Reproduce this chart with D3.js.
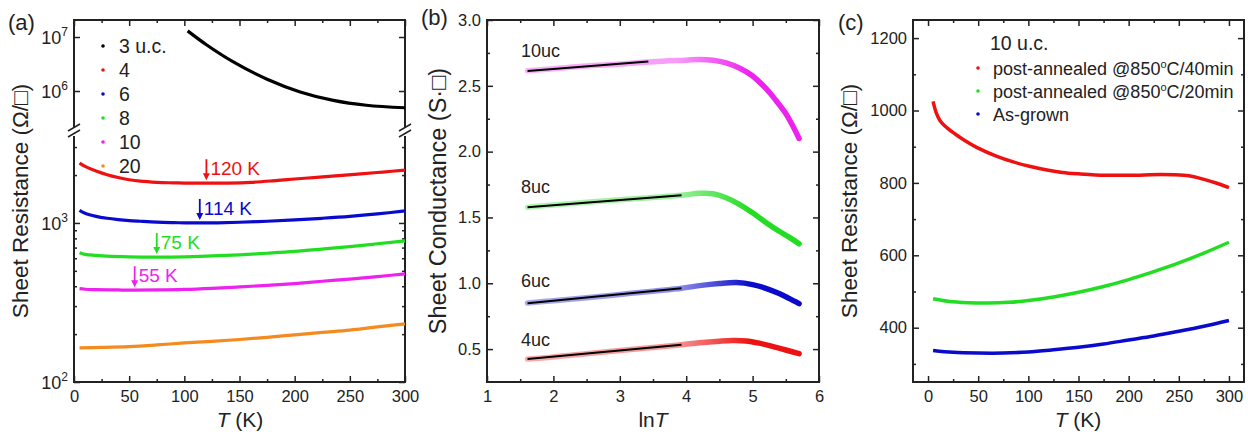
<!DOCTYPE html>
<html>
<head>
<meta charset="utf-8">
<script src="https://cdn.jsdelivr.net/npm/d3@7"></script>
<style>
  body { margin: 0; background: #fff; }
  svg text { font-family: "Liberation Sans", Arial, sans-serif; fill: #222; }
</style>
</head>
<body>
<svg width="1248" height="435"></svg>
<script>
var svg = d3.select('svg');

// ---------- data: panel (a), R(T) for several thicknesses ----------
var seriesA = ['3 u.c.', '4', '6', '8', '10', '20'];
var colorsA = ['#000000', '#ee1111', '#0a0acc', '#22dd22', '#ee22ee', '#f58a1f'];
var tA3 = [103, 120, 144, 175, 205, 235, 265, 300];
var rA3 = [1.3e7, 7.2e6, 3.5e6, 1.65e6, 9.6e5, 6.7e5, 5.45e5, 4.9e5];
var tA4 = [5, 10, 20, 30, 40, 50, 60, 75, 90, 100, 120, 140, 160, 180, 200, 220, 240, 260, 280, 300];
var rA4 = [2380, 2270, 2120, 2010, 1930, 1870, 1830, 1800, 1788, 1782, 1778, 1782, 1800, 1840, 1890, 1935, 1985, 2035, 2090, 2150];
var tA6 = [5, 10, 20, 30, 40, 50, 60, 75, 90, 100, 114, 130, 150, 175, 200, 225, 250, 275, 300];
var rA6 = [1200, 1150, 1100, 1070, 1050, 1035, 1025, 1012, 1005, 1002, 1000, 1002, 1010, 1025, 1045, 1070, 1100, 1140, 1190];
var tA8 = [5, 10, 20, 30, 50, 75, 100, 125, 150, 175, 200, 225, 250, 275, 300];
var rA8 = [650, 635, 625, 618, 612, 610, 612, 620, 630, 645, 662, 685, 710, 740, 772];
var tA10 = [5, 10, 20, 40, 55, 75, 100, 125, 150, 175, 200, 225, 250, 275, 300];
var rA10 = [386, 383, 381, 379, 378, 379, 382, 388, 396, 405, 416, 430, 444, 460, 478];
var tA20 = [5, 25, 50, 75, 100, 125, 150, 175, 200, 225, 250, 275, 300];
var rA20 = [164, 165, 167, 171, 176, 180, 185, 191, 198, 205, 212, 222, 232];
var minimaT = [120, 114, 75, 55];
var minimaLabel = ['120 K', '114 K', '75 K', '55 K'];
var minimaR = [1778, 1000, 610, 378];
var minimaColor = ['#ee1111', '#0a0acc', '#22dd22', '#ee22ee'];

// ---------- data: panel (b), sheet conductance vs ln T ----------
var labelsB = ['10uc', '8uc', '6uc', '4uc'];
var colorsB = ['#ee22ee', '#22dd22', '#0a0acc', '#ee1111'];
var lnT10 = [1.61, 2.0, 2.5, 3.0, 3.5, 4.0, 4.2, 4.4, 4.6, 4.8, 5.0, 5.2, 5.35, 5.5, 5.6, 5.7];
var g10 = [2.615, 2.63, 2.65, 2.665, 2.683, 2.695, 2.70, 2.695, 2.675, 2.635, 2.575, 2.48, 2.39, 2.29, 2.2, 2.1];
var lnT8 = [1.61, 2.0, 2.5, 3.0, 3.5, 3.93, 4.2, 4.4, 4.6, 4.8, 5.0, 5.2, 5.4, 5.55, 5.7];
var g8 = [1.578, 1.595, 1.615, 1.635, 1.652, 1.668, 1.683, 1.68, 1.65, 1.6, 1.535, 1.462, 1.395, 1.35, 1.3];
var lnT6 = [1.61, 2.0, 2.5, 3.0, 3.5, 3.93, 4.2, 4.5, 4.76, 5.0, 5.2, 5.4, 5.55, 5.7];
var g6 = [0.85, 0.868, 0.89, 0.915, 0.94, 0.962, 0.982, 0.998, 1.005, 0.99, 0.962, 0.922, 0.885, 0.845];
var lnT4 = [1.61, 2.0, 2.5, 3.0, 3.5, 3.93, 4.2, 4.5, 4.7, 4.9, 5.1, 5.3, 5.5, 5.7];
var g4 = [0.425, 0.44, 0.465, 0.49, 0.512, 0.533, 0.548, 0.56, 0.565, 0.562, 0.545, 0.52, 0.493, 0.465];
// linear fits (start / end)
var fitX = [[1.61, 3.43], [1.61, 3.93], [1.61, 3.93], [1.61, 3.93]];
var fitY = [[2.612, 2.684], [1.578, 1.668], [0.848, 0.962], [0.424, 0.533]];

// ---------- data: panel (c), 10 u.c. annealing ----------
var seriesC = ['post-annealed @850', 'post-annealed @850', 'As-grown'];
var suffixC = ['C/40min', 'C/20min', ''];
var colorsC = ['#ee1111', '#22dd22', '#0a0acc'];
var tC40 = [5, 8, 12, 19, 27, 35, 50, 68, 85, 101, 120, 134, 150, 167, 200, 233, 255, 265, 276, 288, 300];
var rC40 = [1025, 995, 972, 952, 935, 920, 896, 874, 858, 846, 835, 829, 825, 822, 821, 823, 821, 817, 809, 799, 787];
var tC20 = [5, 20, 40, 60, 80, 100, 125, 150, 175, 200, 225, 250, 275, 300];
var rC20 = [480, 473, 469, 468, 470, 475, 485, 498, 514, 533, 555, 579, 606, 636];
var tCas = [5, 25, 50, 75, 100, 125, 150, 175, 200, 225, 250, 275, 300];
var rCas = [337, 332, 330, 330, 333, 339, 346, 355, 366, 377, 390, 404, 420];

var yT = 20, yB = 382;
var smooth = d3.curveCatmullRom.alpha(0.5);

// inward Origin-style ticks on all four sides
function frameAxes(g, x, y, xMajor, xMinor, yMajor, yMinor, xFmt, yFmt, skipY) {
  var x0 = x.range()[0], x1 = x.range()[1];
  g.append('g').attr('transform', 'translate(0,' + yB + ')')
    .call(d3.axisBottom(x).tickValues(xMajor).tickSize(-6).tickPadding(8).tickFormat(xFmt));
  g.append('g').attr('transform', 'translate(0,' + yB + ')')
    .call(d3.axisBottom(x).tickValues(xMinor).tickSize(-3).tickFormat(''));
  g.append('g').attr('transform', 'translate(0,' + yT + ')')
    .call(d3.axisTop(x).tickValues(xMajor).tickSize(-6).tickFormat(''));
  g.append('g').attr('transform', 'translate(0,' + yT + ')')
    .call(d3.axisTop(x).tickValues(xMinor).tickSize(-3).tickFormat(''));
  if (!skipY) {
    g.append('g').attr('transform', 'translate(' + x0 + ',0)')
      .call(d3.axisLeft(y).tickValues(yMajor).tickSize(-6).tickPadding(6).tickFormat(yFmt));
    g.append('g').attr('transform', 'translate(' + x0 + ',0)')
      .call(d3.axisLeft(y).tickValues(yMinor).tickSize(-3).tickFormat(''));
    g.append('g').attr('transform', 'translate(' + x1 + ',0)')
      .call(d3.axisRight(y).tickValues(yMajor).tickSize(-6).tickFormat(''));
    g.append('g').attr('transform', 'translate(' + x1 + ',0)')
      .call(d3.axisRight(y).tickValues(yMinor).tickSize(-3).tickFormat(''));
    g.append('rect').attr('x', x0).attr('y', yT).attr('width', x1 - x0).attr('height', yB - yT)
      .attr('fill', 'none').attr('stroke', '#222').attr('stroke-width', 2);
  }
  g.selectAll('.domain').remove();
  g.selectAll('.tick line').attr('stroke', '#222').attr('stroke-width', 1.5);
  g.selectAll('.tick text').attr('font-size', 16.5).attr('fill', '#222')
    .attr('font-family', '"Liberation Sans", Arial, sans-serif');
}

function yTitle(g, cx, txt, fs) {
  g.append('text').attr('transform', 'translate(' + cx + ',201) rotate(-90)')
    .attr('text-anchor', 'middle').attr('font-size', fs).text(txt);
}

function panelTag(g, x, y, txt) {
  g.append('text').attr('x', x).attr('y', y).attr('font-size', 22).text(txt);
}

// ================= panel (a) =================
var ga = svg.append('g');
var xa = d3.scaleLinear().domain([0, 300]).range([74, 405]);
var yUp = d3.scaleLog().domain([Math.pow(10, 5.315), Math.pow(10, 7.315)]).range([128, 20]);
var yLo = d3.scaleLog().domain([100, Math.pow(10, 3.553)]).range([382, 135]);

frameAxes(ga, xa, null, d3.range(0, 301, 50), d3.range(25, 300, 50), null, null, d3.format('d'), null, true);

// broken left/right axes
[74, 405].forEach(function(xx, i) {
  var ax = i === 0 ? d3.axisLeft : d3.axisRight;
  ga.append('g').attr('transform', 'translate(' + xx + ',0)')
    .call(ax(yUp).tickValues([1e6, 1e7]).tickSize(-6).tickFormat(''));
  ga.append('g').attr('transform', 'translate(' + xx + ',0)')
    .call(ax(yLo).tickValues([100, 1000]).tickSize(-6).tickFormat(''));
  ga.append('g').attr('transform', 'translate(' + xx + ',0)')
    .call(ax(yLo).tickValues([200, 300, 400, 500, 600, 700, 800, 900, 2000, 3000]).tickSize(-3).tickFormat(''));
  ga.append('line').attr('x1', xx).attr('x2', xx).attr('y1', yT).attr('y2', 127)
    .attr('stroke', '#222').attr('stroke-width', 2);
  ga.append('line').attr('x1', xx).attr('x2', xx).attr('y1', 136).attr('y2', yB)
    .attr('stroke', '#222').attr('stroke-width', 2);
  [127, 133].forEach(function(yy) {
    ga.append('line').attr('x1', xx - 6).attr('y1', yy + 4).attr('x2', xx + 6).attr('y2', yy - 3)
      .attr('stroke', '#222').attr('stroke-width', 1.5);
  });
});
ga.selectAll('.domain').remove();
ga.selectAll('.tick line').attr('stroke', '#222').attr('stroke-width', 1.5);
ga.append('line').attr('x1', 73).attr('x2', 406).attr('y1', yT).attr('y2', yT).attr('stroke', '#222').attr('stroke-width', 2);
ga.append('line').attr('x1', 73).attr('x2', 406).attr('y1', yB).attr('y2', yB).attr('stroke', '#222').attr('stroke-width', 2);

// log tick labels with superscripts
var logLabs = [[yUp, 1e7, '7'], [yUp, 1e6, '6'], [yLo, 1e3, '3'], [yLo, 1e2, '2']];
logLabs.forEach(function(d) {
  var t = ga.append('text').attr('x', 68).attr('y', d[0](d[1]) + 7).attr('text-anchor', 'end').attr('font-size', 18);
  t.append('tspan').text('10');
  t.append('tspan').attr('dy', -8).attr('font-size', 12).text(d[2]);
});

var lineA = d3.line().curve(smooth);
var dataA = [[tA3, rA3, yUp], [tA4, rA4, yLo], [tA6, rA6, yLo], [tA8, rA8, yLo], [tA10, rA10, yLo], [tA20, rA20, yLo]];
dataA.forEach(function(s, i) {
  var pts = s[0].map(function(t, j) { return [xa(t), s[2](s[1][j])]; });
  ga.append('path').attr('d', lineA(pts)).attr('fill', 'none')
    .attr('stroke', colorsA[i]).attr('stroke-width', 3.2);
});

// legend (a)
seriesA.forEach(function(name, i) {
  var yy = 53 + i * 24;
  ga.append('circle').attr('cx', 103).attr('cy', yy - 7).attr('r', 1.8).attr('fill', colorsA[i]);
  ga.append('text').attr('x', 119).attr('y', yy).attr('font-size', 19.5).text(name);
});

// minimum arrows
minimaT.forEach(function(t, i) {
  var xx = xa(t), yb = yLo(minimaR[i]) - 3;
  ga.append('line').attr('x1', xx).attr('x2', xx).attr('y1', yb - 21).attr('y2', yb - 5)
    .attr('stroke', minimaColor[i]).attr('stroke-width', 1.8);
  ga.append('path').attr('d', 'M' + (xx - 3.5) + ',' + (yb - 7) + 'L' + (xx + 3.5) + ',' + (yb - 7) + 'L' + xx + ',' + yb + 'Z')
    .attr('fill', minimaColor[i]);
  ga.append('text').attr('x', xx + 4).attr('y', yb - 5).attr('font-size', 19)
    .style('fill', minimaColor[i]).text(minimaLabel[i]);
});

panelTag(ga, 8, 30, '(a)');
yTitle(ga, 28, 'Sheet Resistance (\u03A9/\u25A1)', 22.5);
var xt = ga.append('text').attr('x', 240).attr('y', 427).attr('text-anchor', 'middle').attr('font-size', 21);
xt.append('tspan').attr('font-style', 'italic').text('T');
xt.append('tspan').text(' (K)');

// ================= panel (b) =================
var gb = svg.append('g');
var xb = d3.scaleLinear().domain([1, 6]).range([487, 819]);
var yb = d3.scaleLinear().domain([0.25, 3.0]).range([yB, yT]);
frameAxes(gb, xb, yb, d3.range(1, 6.01, 1), d3.range(1.5, 6, 1), d3.range(0.5, 3.01, 0.5), d3.range(0.75, 3, 0.5),
  d3.format('d'), d3.format('.1f'));

var defs = svg.append('defs');
var dataB = [[lnT10, g10], [lnT8, g8], [lnT6, g6], [lnT4, g4]];
var lineB = d3.line().curve(smooth).x(function(d) { return xb(d[0]); }).y(function(d) { return yb(d[1]); });
dataB.forEach(function(s, i) {
  var grad = defs.append('linearGradient').attr('id', 'gb' + i).attr('gradientUnits', 'userSpaceOnUse')
    .attr('x1', xb(1.6)).attr('x2', xb(5.7)).attr('y1', 0).attr('y2', 0);
  [[0, 0.35], [0.55, 0.45], [0.75, 0.85], [0.82, 1], [1, 1]].forEach(function(st) {
    grad.append('stop').attr('offset', st[0]).attr('stop-color', colorsB[i]).attr('stop-opacity', st[1]);
  });
  var pts = s[0].map(function(v, j) { return [v, s[1][j]]; });
  gb.append('path').attr('d', lineB(pts)).attr('fill', 'none')
    .attr('stroke', 'url(#gb' + i + ')').attr('stroke-width', 5.5).attr('stroke-linecap', 'round');
  gb.append('line').attr('x1', xb(fitX[i][0])).attr('x2', xb(fitX[i][1]))
    .attr('y1', yb(fitY[i][0])).attr('y2', yb(fitY[i][1]))
    .attr('stroke', '#000').attr('stroke-width', 2);
});
var labelY = [57, 193, 287, 346];
labelsB.forEach(function(l, i) {
  gb.append('text').attr('x', 521).attr('y', labelY[i]).attr('font-size', 18).text(l);
});

panelTag(gb, 421, 25, '(b)');
yTitle(gb, 446, 'Sheet Conductance (S\u00B7\u25A1)', 23.5);
var xtb = gb.append('text').attr('x', 653).attr('y', 427).attr('text-anchor', 'middle').attr('font-size', 21);
xtb.append('tspan').text('ln');
xtb.append('tspan').attr('font-style', 'italic').text('T');

// ================= panel (c) =================
var gc = svg.append('g');
var xc = d3.scaleLinear().domain([-15, 315]).range([913, 1244]);
var yc = d3.scaleLinear().domain([250, 1250]).range([yB, yT]);
frameAxes(gc, xc, yc, d3.range(0, 301, 50), d3.range(25, 300, 50), d3.range(400, 1201, 200), d3.range(300, 1200, 200),
  d3.format('d'), d3.format('d'));

var dataC = [[tC40, rC40], [tC20, rC20], [tCas, rCas]];
var lineC = d3.line().curve(smooth).x(function(d) { return xc(d[0]); }).y(function(d) { return yc(d[1]); });
dataC.forEach(function(s, i) {
  var pts = s[0].map(function(v, j) { return [v, s[1][j]]; });
  gc.append('path').attr('d', lineC(pts)).attr('fill', 'none')
    .attr('stroke', colorsC[i]).attr('stroke-width', 3.5);
});

gc.append('text').attr('x', 990).attr('y', 50).attr('font-size', 19.5).text('10 u.c.');
seriesC.forEach(function(name, i) {
  var yy = 75 + i * 23;
  gc.append('circle').attr('cx', 978).attr('cy', yy - 7).attr('r', 1.8).attr('fill', colorsC[i]);
  var t = gc.append('text').attr('x', 993).attr('y', yy).attr('font-size', 18);
  t.append('tspan').text(name);
  if (suffixC[i]) {
    t.append('tspan').attr('dy', -7).attr('font-size', 11).text('o');
    t.append('tspan').attr('dy', 7).text(suffixC[i]);
  }
});

panelTag(gc, 838, 30, '(c)');
yTitle(gc, 857, 'Sheet Resistance (\u03A9/\u25A1)', 22.5);
var xtc = gc.append('text').attr('x', 1078).attr('y', 427).attr('text-anchor', 'middle').attr('font-size', 21);
xtc.append('tspan').attr('font-style', 'italic').text('T');
xtc.append('tspan').text(' (K)');
</script>
</body>
</html>
